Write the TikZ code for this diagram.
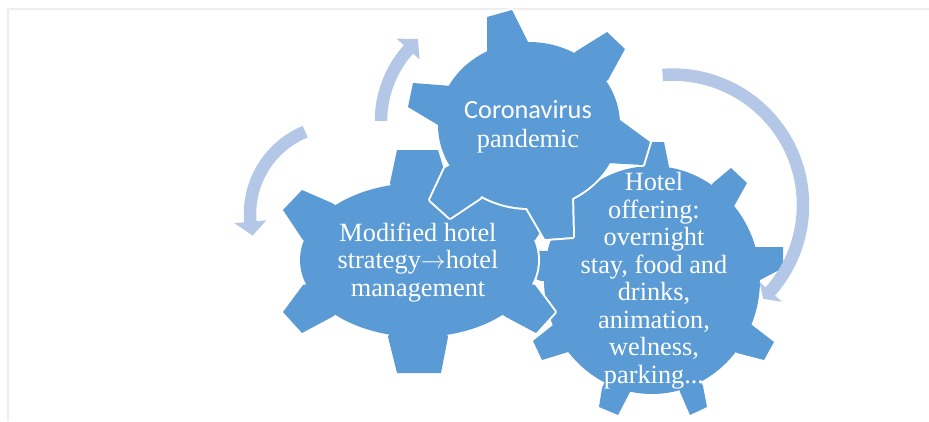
\documentclass[tikz,border=0pt]{standalone}
\usepackage{fontspec}
\setmainfont{Liberation Serif}
\newfontfamily\carlito{Carlito}
\definecolor{gearblue}{HTML}{5B9BD5}
\definecolor{cyclearrow}{HTML}{B4C7E7}
\definecolor{framegray}{HTML}{EEEEEE}
\tikzset{
  gearrim/.style={draw=white, line width=4pt, line join=round},
  gearfill/.style={fill=gearblue},
  cyclestem/.style={draw=cyclearrow, line width=12.5pt},
  cyclehead/.style={fill=cyclearrow},
  gearlabel/.style={text=white, align=center, inner sep=0pt,
    font=\fontsize{26.3pt}{27.5pt}\selectfont},
}
% #1 centre coordinate, #2/#3 body radii, #4 teeth as x1/y1/x2/y2/x3/y3/x4/y4
\newcommand\drawgear[4]{%
  \foreach \ax/\ay/\bx/\by/\cx/\cy/\qx/\qy in {#4}
    {\draw[gearrim] (\ax,\ay) -- (\bx,\by) -- (\cx,\cy) -- (\qx,\qy) -- (#1) -- cycle;}
  \draw[gearrim] (#1) ellipse[x radius=#2, y radius=#3];
  \foreach \ax/\ay/\bx/\by/\cx/\cy/\qx/\qy in {#4}
    {\fill[gearfill] (\ax,\ay) -- (\bx,\by) -- (\cx,\cy) -- (\qx,\qy) -- (#1) -- cycle;}
  \fill[gearfill] (#1) ellipse[x radius=#2, y radius=#3];
}
\begin{document}
\begin{tikzpicture}[x=1pt, y=-1pt]
\useasboundingbox (0,0) rectangle (929,421);
% page frame
\draw[framegray, line width=2pt] (7.5,421) -- (7.5,9) -- (929,9);

% gear centres
\coordinate (hub3) at (652,280);
\coordinate (hub1) at (419,260);
\coordinate (hub2) at (529,125);

% hotel offering gear (nine teeth)
\drawgear{hub3}{108}{114}{
  642/165/644/142/664/142/669/167,
  713/183/731/168/747/183/733/208,
  755/247/783/247/783/268/760/280,
  752/325/774/342/764/360/737/353,
  703/386/707/407/690/415/680/392,
  630/392/618/415/599/407/602/388,
  568/352/542/360/533/341/553/325,
  541/281/516/271/522/250/547/251,
  566/209/554/186/572/173/590/190}

% hotel strategy gear
\drawgear{hub1}{119}{77}{
  390/183/397/150/438/150/448/183,
  332/203/302/190/283/210/303/240,
  303/285/283/312/302/333/332/317,
  388/337/397/373/441/373/448/337,
  506/317/536/333/555/312/535/285,
  535/240/555/210/536/190/506/203}

% pandemic gear
\drawgear{hub2}{91}{83}{
  487/55/487/17/512/10/528/42,
  575/52/607/32/625/49/608/80,
  620/120/650/142/643/165/607/163,
  572/195/573/237/545/239/527/208,
  480/198/450/218/430/200/445/168,
  438/125/408/107/413/83/452/86}

% circular arrows
\coordinate (lac) at (339,214);
\coordinate (tac) at (488,121);
\coordinate (rac) at (672.6,205);
\draw[cyclestem] ([shift={(247.7:89)}]lac) arc[start angle=247.7, end angle=174.5, radius=89];
\fill[cyclehead] ([shift={(175:105)}]lac) -- ([shift={(166:89)}]lac) -- ([shift={(175:73)}]lac) -- cycle;
\draw[cyclestem] ([shift={(180:107)}]tac) arc[start angle=180, end angle=222.5, radius=107];
\fill[cyclehead] ([shift={(222:92)}]tac) -- ([shift={(229.5:108)}]tac) -- ([shift={(222:123)}]tac) -- cycle;
\draw[cyclestem] ([shift={(265.6:130.4)}]rac) arc[start angle=265.6, end angle=402, radius=130.4];
\fill[cyclehead] ([shift={(401.5:116)}]rac) -- ([shift={(406:130.5)}]rac) -- ([shift={(401.5:146)}]rac) -- cycle;

% labels (base anchor sits on the last line)
\node[gearlabel, anchor=base, font=\fontsize{26.3pt}{29pt}\selectfont] (pandemic) at (528,147)
  {{\carlito Coronavirus}\\pandemic};
\node[gearlabel, anchor=base] (strategy) at (418,296)
  {Modified hotel\\strategy$\rightarrow$hotel\\management};
\node[gearlabel, anchor=base] (offering) at (654,383.3)
  {Hotel\\offering:\\overnight\\stay, food and\\drinks,\\animation,\\welness,\\parking...};
\end{tikzpicture}
\end{document}
